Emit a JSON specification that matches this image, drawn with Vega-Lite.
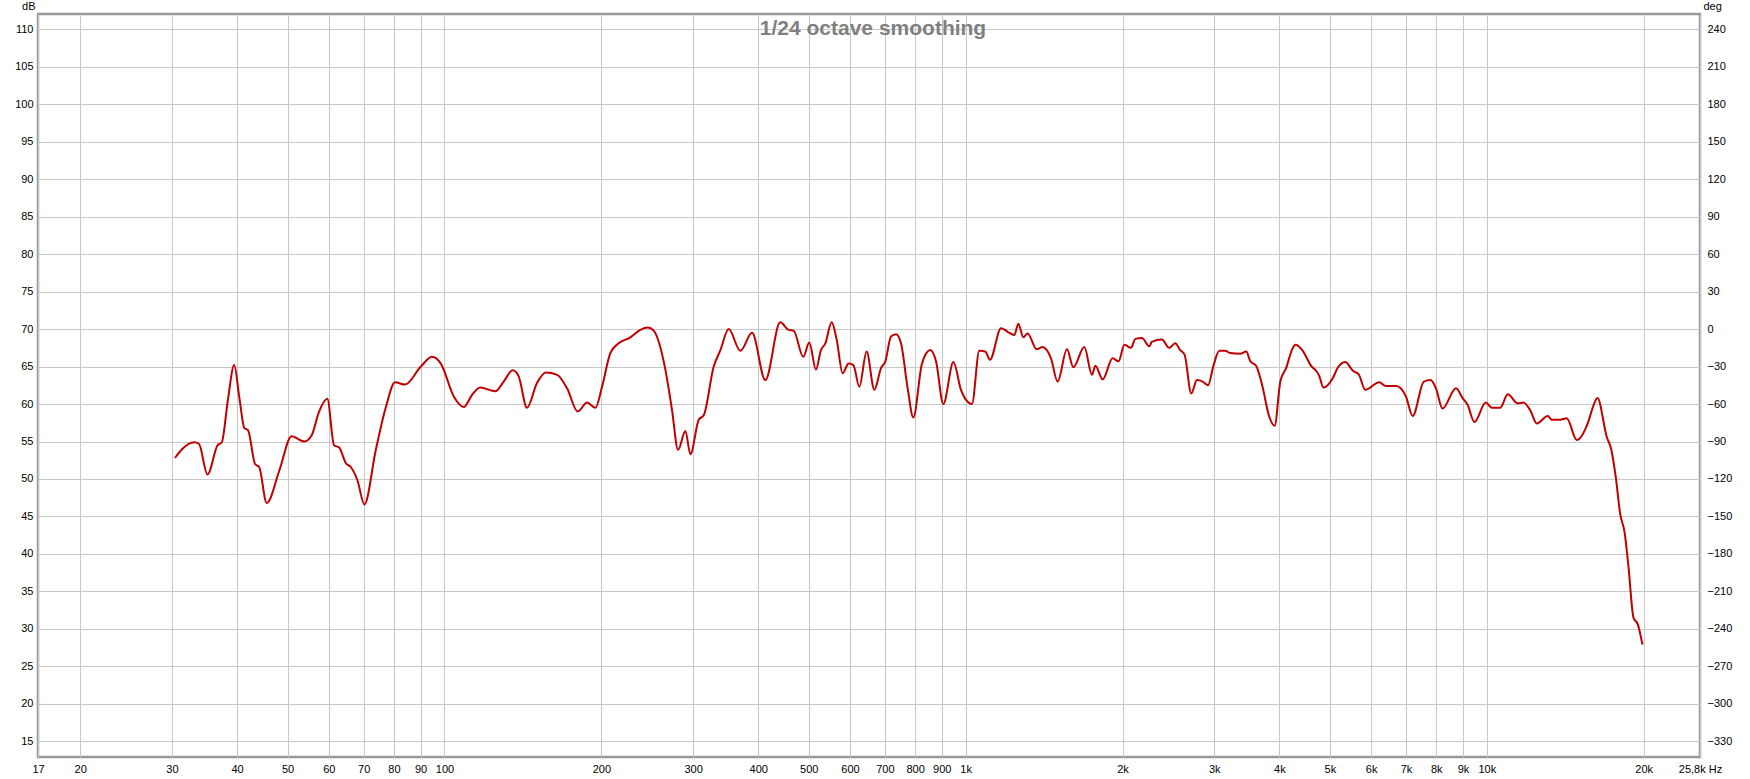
{
  "$schema": "https://vega.github.io/schema/vega-lite/v6.json",
  "width": 1662,
  "height": 743,
  "autosize": "none",
  "padding": {"left": 38, "top": 14, "right": 50, "bottom": 22},
  "background": "white",
  "title": {"text": "1/24 octave smoothing", "font": "Liberation Sans", "fontSize": 21, "fontWeight": "bold", "color": "#808080", "anchor": "middle", "frame": "group", "baseline": "alphabetic", "offset": 0, "dy": 56, "dx": 4},
  "data": {"values": [
    {"f": 30.4, "db": 52.8}, {"f": 31.4, "db": 54.0}, {"f": 33.1, "db": 54.9}, {"f": 33.8, "db": 54.7}, {"f": 35.1, "db": 50.6},
    {"f": 36.7, "db": 54.5}, {"f": 37.4, "db": 54.9}, {"f": 38.4, "db": 60.5}, {"f": 39.5, "db": 65.2}, {"f": 40.4, "db": 60.9},
    {"f": 41.3, "db": 56.8}, {"f": 42.0, "db": 56.5}, {"f": 43.3, "db": 52.0}, {"f": 44.1, "db": 51.6}, {"f": 45.6, "db": 46.8},
    {"f": 48.2, "db": 51.1}, {"f": 50.9, "db": 55.7}, {"f": 53.8, "db": 55.0}, {"f": 55.6, "db": 55.8}, {"f": 57.4, "db": 58.9},
    {"f": 59.6, "db": 60.7}, {"f": 61.4, "db": 54.5}, {"f": 62.8, "db": 54.2}, {"f": 64.7, "db": 52.1}, {"f": 66.1, "db": 51.6},
    {"f": 68.1, "db": 49.8}, {"f": 70.2, "db": 46.6}, {"f": 73.8, "db": 53.8}, {"f": 77.2, "db": 59.6}, {"f": 80.4, "db": 62.9},
    {"f": 84.0, "db": 62.6}, {"f": 90.1, "db": 65.0}, {"f": 94.6, "db": 66.3}, {"f": 98.4, "db": 65.4}, {"f": 104.4, "db": 60.9},
    {"f": 108.9, "db": 59.6}, {"f": 112.9, "db": 61.2}, {"f": 117.1, "db": 62.2}, {"f": 125.2, "db": 61.7}, {"f": 129.9, "db": 63.0},
    {"f": 135.2, "db": 64.5}, {"f": 138.8, "db": 63.7}, {"f": 144.0, "db": 59.5}, {"f": 150.5, "db": 62.8}, {"f": 156.6, "db": 64.2},
    {"f": 164.5, "db": 63.9}, {"f": 171.9, "db": 62.1}, {"f": 180.2, "db": 59.0}, {"f": 187.8, "db": 60.2}, {"f": 194.8, "db": 59.5},
    {"f": 200.6, "db": 62.3}, {"f": 208.1, "db": 66.8}, {"f": 215.8, "db": 68.1}, {"f": 227.3, "db": 68.9}, {"f": 237.6, "db": 69.9},
    {"f": 245.8, "db": 70.2}, {"f": 252.0, "db": 69.8}, {"f": 265.4, "db": 64.6}, {"f": 273.3, "db": 59.2}, {"f": 280.7, "db": 53.9},
    {"f": 289.9, "db": 56.4}, {"f": 296.4, "db": 53.3}, {"f": 307.5, "db": 57.9}, {"f": 314.4, "db": 58.5}, {"f": 328.6, "db": 65.0},
    {"f": 338.4, "db": 67.2}, {"f": 351.1, "db": 70.0}, {"f": 369.6, "db": 67.1}, {"f": 389.2, "db": 69.5}, {"f": 412.8, "db": 63.2},
    {"f": 440.8, "db": 70.9}, {"f": 457.4, "db": 69.9}, {"f": 467.6, "db": 69.8}, {"f": 488.1, "db": 66.3}, {"f": 501.2, "db": 68.2},
    {"f": 516.2, "db": 64.6}, {"f": 527.7, "db": 67.2}, {"f": 538.1, "db": 68.1}, {"f": 553.3, "db": 70.9}, {"f": 565.7, "db": 68.6},
    {"f": 580.8, "db": 64.1}, {"f": 596.4, "db": 65.4}, {"f": 609.0, "db": 65.2}, {"f": 625.2, "db": 62.3}, {"f": 645.7, "db": 67.0},
    {"f": 668.1, "db": 61.9}, {"f": 688.1, "db": 64.8}, {"f": 701.4, "db": 65.7}, {"f": 719.1, "db": 69.0}, {"f": 735.2, "db": 69.3},
    {"f": 751.6, "db": 68.1}, {"f": 774.0, "db": 62.1}, {"f": 793.7, "db": 58.2}, {"f": 824.6, "db": 65.4}, {"f": 855.6, "db": 67.2},
    {"f": 877.4, "db": 65.7}, {"f": 906.2, "db": 60.0}, {"f": 947.4, "db": 65.6}, {"f": 979.6, "db": 61.9}, {"f": 1008.9, "db": 60.3},
    {"f": 1028.4, "db": 60.0}, {"f": 1062.2, "db": 67.1}, {"f": 1090.6, "db": 67.0}, {"f": 1113.4, "db": 65.9}, {"f": 1169.3, "db": 70.1},
    {"f": 1212.9, "db": 69.5}, {"f": 1240.1, "db": 69.2}, {"f": 1262.1, "db": 70.7}, {"f": 1290.3, "db": 68.9}, {"f": 1315.2, "db": 69.4},
    {"f": 1368.5, "db": 67.3}, {"f": 1405.2, "db": 67.6}, {"f": 1457.9, "db": 66.1}, {"f": 1501.5, "db": 63.0}, {"f": 1564.8, "db": 67.3},
    {"f": 1609.3, "db": 64.9}, {"f": 1689.5, "db": 67.6}, {"f": 1747.7, "db": 63.9}, {"f": 1773.7, "db": 65.1}, {"f": 1832.3, "db": 63.3},
    {"f": 1914.4, "db": 66.1}, {"f": 1966.0, "db": 65.7}, {"f": 2016.0, "db": 67.9}, {"f": 2076.3, "db": 67.5}, {"f": 2116.4, "db": 68.7},
    {"f": 2179.6, "db": 68.8}, {"f": 2251.5, "db": 67.7}, {"f": 2276, "db": 68.3}, {"f": 2380, "db": 68.6}, {"f": 2458, "db": 67.5},
    {"f": 2524, "db": 68.1}, {"f": 2581, "db": 67.2}, {"f": 2631, "db": 66.6}, {"f": 2710, "db": 61.4}, {"f": 2778, "db": 63.2},
    {"f": 2850, "db": 63.0}, {"f": 2918, "db": 62.5}, {"f": 2991, "db": 65.2}, {"f": 3067, "db": 67.1}, {"f": 3149, "db": 67.1},
    {"f": 3219, "db": 66.8}, {"f": 3365, "db": 66.7}, {"f": 3456, "db": 67.0}, {"f": 3518, "db": 65.7}, {"f": 3609, "db": 65.1},
    {"f": 3707, "db": 62.5}, {"f": 3825, "db": 58.3}, {"f": 3917, "db": 57.1}, {"f": 4016, "db": 63.0}, {"f": 4120, "db": 64.8},
    {"f": 4232, "db": 67.3}, {"f": 4294, "db": 67.9}, {"f": 4424, "db": 67.2}, {"f": 4592, "db": 65.2}, {"f": 4768, "db": 63.8},
    {"f": 4860, "db": 62.2}, {"f": 5060, "db": 63.4}, {"f": 5173, "db": 64.8}, {"f": 5350, "db": 65.6}, {"f": 5542, "db": 64.4},
    {"f": 5675, "db": 64.0}, {"f": 5846, "db": 61.9}, {"f": 6218, "db": 62.9}, {"f": 6404, "db": 62.4}, {"f": 6700, "db": 62.4},
    {"f": 6997, "db": 61.0}, {"f": 7207, "db": 58.4}, {"f": 7573, "db": 63.0}, {"f": 7800, "db": 63.2}, {"f": 7987, "db": 62.1},
    {"f": 8224, "db": 59.4}, {"f": 8726, "db": 62.1}, {"f": 8987, "db": 60.8}, {"f": 9188, "db": 59.9}, {"f": 9464, "db": 57.6},
    {"f": 9956, "db": 60.2}, {"f": 10223, "db": 59.5}, {"f": 10607, "db": 59.5}, {"f": 10972, "db": 61.3}, {"f": 11467, "db": 60.1},
    {"f": 11756, "db": 60.2}, {"f": 12109, "db": 59.2}, {"f": 12472, "db": 57.4}, {"f": 13093, "db": 58.4}, {"f": 13326, "db": 57.9},
    {"f": 13823, "db": 57.9}, {"f": 14236, "db": 58.1}, {"f": 14879, "db": 55.2}, {"f": 15668, "db": 57.7}, {"f": 16018, "db": 59.8},
    {"f": 16305, "db": 60.8}, {"f": 16992, "db": 55.6}, {"f": 17322, "db": 54.0}, {"f": 17683, "db": 50.2}, {"f": 18030, "db": 45.3},
    {"f": 18380, "db": 42.9}, {"f": 18705, "db": 38.2}, {"f": 19116, "db": 31.5}, {"f": 19488, "db": 30.6}, {"f": 19891, "db": 27.9}
  ]},
  "config": {
    "view": {"stroke": "#999999", "strokeWidth": 2.5},
    "axis": {"labelFont": "Liberation Sans", "labelFontSize": 11, "labelColor": "#000000", "titleFont": "Liberation Sans", "titleFontSize": 11, "titleFontWeight": "normal", "titleColor": "#000000", "domain": false, "ticks": false, "gridColor": "#c8c8c8", "gridWidth": 1, "gridOpacity": 1}
  },
  "layer": [
    {
      "mark": {"type": "line", "color": "#c00000", "strokeWidth": 2, "interpolate": "monotone", "clip": true},
      "encoding": {
        "x": {"field": "f", "type": "quantitative",
          "scale": {"type": "log", "domain": [16.6, 25650], "nice": false},
          "axis": {"values": [16.6, 20, 30, 40, 50, 60, 70, 80, 90, 100, 200, 300, 400, 500, 600, 700, 800, 900, 1000, 2000, 3000, 4000, 5000, 6000, 7000, 8000, 9000, 10000, 20000, 25650],
            "labelExpr": "datum.value < 17 ? '17' : datum.value > 25000 ? '25,8k Hz' : datum.value >= 1000 ? format(datum.value / 1000, 'd') + 'k' : format(datum.value, 'd')",
            "labelFlush": false, "labelOverlap": false, "labelPadding": 6, "title": null, "grid": true}},
        "y": {"field": "db", "type": "quantitative",
          "scale": {"domain": [12.9, 112.05], "nice": false, "zero": false},
          "axis": {"values": [15, 20, 25, 30, 35, 40, 45, 50, 55, 60, 65, 70, 75, 80, 85, 90, 95, 100, 105, 110], "grid": true, "labelPadding": 5,
            "title": "dB", "titleAngle": 0, "titleX": -3, "titleY": -8, "titleAlign": "right", "titleBaseline": "middle"}}
      }
    },
    {
      "mark": {"type": "line", "opacity": 0},
      "encoding": {
        "x": {"field": "f", "type": "quantitative"},
        "y": {"field": "db", "type": "quantitative",
          "scale": {"domain": [12.9, 112.05], "nice": false, "zero": false},
          "axis": {"orient": "right", "values": [15, 20, 25, 30, 35, 40, 45, 50, 55, 60, 65, 70, 75, 80, 85, 90, 95, 100, 105, 110], "grid": false, "labelPadding": 7,
            "labelExpr": "format((datum.value - 70) * 6, 'd')",
            "title": "deg", "titleAngle": 0, "titleX": 3, "titleY": -8, "titleAlign": "left", "titleBaseline": "middle"}}
      }
    }
  ],
  "resolve": {"scale": {"y": "independent"}, "axis": {"y": "independent"}}
}
